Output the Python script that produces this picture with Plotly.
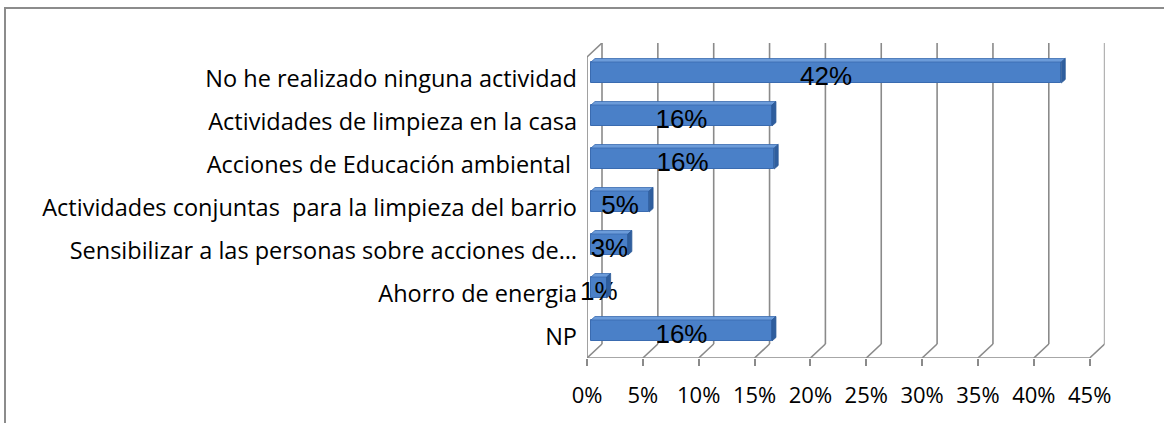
import plotly.graph_objects as go

# ---------------- data ----------------
CATEGORIES = [
    "NP",
    "Ahorro de energia",
    "Sensibilizar a las personas sobre acciones de…",
    "Actividades conjuntas  para la limpieza del barrio",
    "Acciones de Educación ambiental ",
    "Actividades de limpieza en la casa",
    "No he realizado ninguna actividad",
]
VALUES = [16.2, 1.4, 3.3, 5.2, 16.4, 16.2, 42.1]  # percent
X_TICKS = [0, 5, 10, 15, 20, 25, 30, 35, 40, 45]
X_TICK_LABELS = ["0%", "5%", "10%", "15%", "20%", "25%", "30%", "35%", "40%", "45%"]

# ---------------- geometry (pixels) ----------------
W, H = 1164, 423
FX0 = 587.0          # front plane 0%
PXU = 11.17          # px per percent
FY_BOT = 358.0       # front plane bottom
ROW = 43.0           # px per category
DXP, DYP = 15.0, 14.0  # depth offset of back wall
XMAX = X_TICKS[-1]
N = len(CATEGORIES)

DX = DXP / PXU
DY = DYP / ROW
x_range = [0, XMAX + DX]
y_range = [-0.5, N - 0.5 + DY]
x_dom = [FX0 / W, (FX0 + (XMAX + DX) * PXU) / W]
y_top_px = FY_BOT - (N + DY) * ROW
y_dom = [1 - FY_BOT / H, 1 - y_top_px / H]

# bar placement (mid depth)
XOFF = 4.0 / PXU
YOFF = 6.0 / ROW
BW = 21.0 / ROW
SX, SY = 4.0 / PXU, 3.5 / ROW

pos = list(range(N))
ybar = [p + YOFF for p in pos]

GRID = "#8a8a8a"
fig = go.Figure()
fig.add_trace(go.Bar(
    orientation="h", y=ybar, x=VALUES, base=XOFF, width=BW,
    marker=dict(color="#4A80C8", line=dict(color="#3A6BB0", width=1)),
    hoverinfo="skip", showlegend=False,
))
fig.add_trace(go.Scatter(
    x=[XOFF + v / 2 for v in VALUES], y=[y - 0.15 for y in ybar],
    mode="text", text=[f"{round(v)}%" for v in VALUES],
    textfont=dict(family="Liberation Sans, Arial", size=26, color="black"),
    textposition="middle center", cliponaxis=False, showlegend=False, hoverinfo="skip",
))

shapes = []
# outer frame
shapes.append(dict(type="rect", xref="paper", yref="paper", x0=5 / W, x1=1.2,
                   y0=-0.2, y1=1 - 8 / H, line=dict(color="#8c8c8c", width=2)))
# back wall gridlines + floor diagonals
for v in X_TICKS:
    shapes.append(dict(type="line", xref="x", yref="y", x0=v + DX, x1=v + DX,
                       y0=-0.5 + DY, y1=N - 0.5 + DY, layer="below",
                       line=dict(color=GRID, width=1.6)))
    shapes.append(dict(type="line", xref="x", yref="y", x0=v, x1=v + DX,
                       y0=-0.5, y1=-0.5 + DY, layer="below",
                       line=dict(color=GRID, width=1.6)))
# front left edge, top diagonal, bottom edge
shapes.append(dict(type="line", xref="x", yref="y", x0=0, x1=0, y0=-0.5, y1=N - 0.5,
                   layer="below", line=dict(color=GRID, width=1.6)))
shapes.append(dict(type="line", xref="x", yref="y", x0=0, x1=DX, y0=N - 0.5, y1=N - 0.5 + DY,
                   layer="below", line=dict(color=GRID, width=1.6)))
shapes.append(dict(type="line", xref="x", yref="y", x0=0, x1=XMAX, y0=-0.5, y1=-0.5,
                   layer="below", line=dict(color=GRID, width=1.6)))
# category boundary ticks
for k in range(N + 1):
    shapes.append(dict(type="line", xref="x", yref="y", xsizemode="pixel", xanchor=0,
                       x0=-8, x1=0, y0=k - 0.5, y1=k - 0.5,
                       line=dict(color=GRID, width=1.6)))
# 3D faces of bars
for v, y in zip(VALUES, ybar):
    e = XOFF + v
    yt, yb = y + BW / 2, y - BW / 2
    shapes.append(dict(type="path", xref="x", yref="y",
                       path=f"M{XOFF},{yt} L{XOFF + SX},{yt + SY} L{e + SX},{yt + SY} L{e},{yt} Z",
                       fillcolor="#6C9CDA", line=dict(color="#3A6BB0", width=0.8)))
    shapes.append(dict(type="path", xref="x", yref="y",
                       path=f"M{e},{yb} L{e + SX},{yb + SY} L{e + SX},{yt + SY} L{e},{yt} Z",
                       fillcolor="#2F5E9E", line=dict(color="#2C5A98", width=0.8)))

fig.update_layout(
    width=W, height=H, template="none",
    margin=dict(l=0, r=0, t=0, b=0),
    paper_bgcolor="white", plot_bgcolor="rgba(0,0,0,0)",
    shapes=shapes, bargap=0, showlegend=False,
    font=dict(family="Open Sans, Carlito, Calibri", color="black"),
    xaxis=dict(domain=x_dom, range=x_range, tickvals=X_TICKS, ticktext=X_TICK_LABELS,
               showgrid=False, zeroline=False, showline=False,
               ticks="outside", ticklen=7, tickwidth=1.6, tickcolor=GRID,
               ticklabelstandoff=11, tickfont=dict(size=22), fixedrange=True),
    yaxis=dict(domain=y_dom, range=y_range, tickvals=pos, ticktext=CATEGORIES,
               showgrid=False, zeroline=False, showline=False,
               ticks="", ticklabelstandoff=9, tickfont=dict(size=23.5), fixedrange=True),
)
fig.write_html(
    "out.html",
    config={"displayModeBar": False},
    post_script="document.body.style.margin='0';document.body.style.overflow='hidden';",
)
